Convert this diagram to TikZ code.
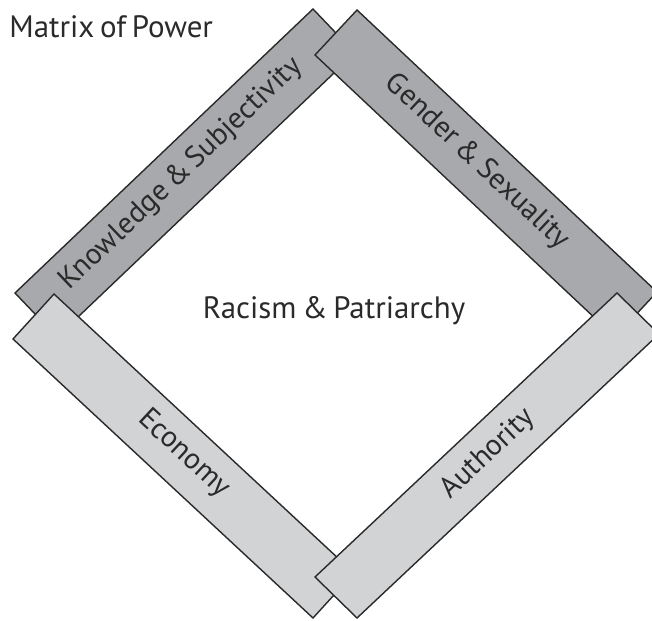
\documentclass[tikz,border=0pt]{standalone}
\usepackage{fontspec}
\setmainfont{PT Sans}[WordSpace=0.7]
\definecolor{bardark}{HTML}{A7A9AC}
\definecolor{barlight}{HTML}{D1D3D4}
\definecolor{ink}{HTML}{2A2A2A}
\begin{document}
\begin{tikzpicture}[x=0.02cm,y=-0.02cm,
  bar/.style={draw=ink,line width=0.8pt,line join=miter},
  darkbar/.style={bar,fill=bardark},
  lightbar/.style={bar,fill=barlight},
  lbl/.style={text=ink,font=\fontsize{16.8}{19}\selectfont,inner sep=0pt},
  bigl/.style={text=ink,font=\fontsize{17.6}{20}\selectfont,inner sep=0pt}]
\useasboundingbox (0,0) rectangle (652,621);
\clip (0,0) rectangle (652,621);
% bars
\draw[darkbar] (313,9) -- (15,293) -- (57,337) -- (355,53) -- cycle;
\draw[darkbar] (357,10) -- (657,292) -- (615,337) -- (315,55) -- cycle;
\draw[lightbar] (54,294) -- (354,573) -- (313,618) -- (13,339) -- cycle;
\draw[lightbar] (315,577) -- (617,293) -- (659,334) -- (357,618) -- cycle;
% labels
\node[lbl,rotate=43.6] (know) at (181,174) {Knowledge \& Subjectivity};
\node[lbl,rotate=-43.2] (gender) at (477,162) {Gender \& Sexuality};
\node[lbl,rotate=-42.9] (econ) at (184,454) {Economy};
\node[lbl,rotate=43.2] (auth) at (488,454) {Authority};
\node[bigl,anchor=base west] (title) at (9,38) {Matrix of Power};
\node[bigl,anchor=base] (center) at (334,318) {Racism \& Patriarchy};
\end{tikzpicture}
\end{document}
